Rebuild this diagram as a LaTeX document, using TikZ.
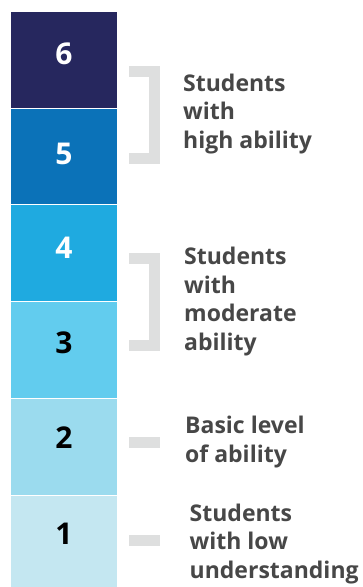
\documentclass[tikz,border=0pt]{standalone}
\usepackage{fontspec}
\setmainfont{Open Sans}
\definecolor{lvsix}{HTML}{26275E}
\definecolor{lvfive}{HTML}{0B72B8}
\definecolor{lvfour}{HTML}{1FAAE0}
\definecolor{lvthree}{HTML}{62CCEE}
\definecolor{lvtwo}{HTML}{9BDBEE}
\definecolor{lvone}{HTML}{C4E7F1}
\definecolor{brk}{HTML}{DEDFDF}
\definecolor{txt}{HTML}{474747}
\tikzset{
  lvblock/.style={rectangle, inner sep=0pt, minimum width=106pt},
  lvnum/.style={anchor=base, inner sep=0pt, font=\fontsize{30}{30}\selectfont\bfseries},
  brace/.style={draw=brk, line width=11pt, line cap=butt, line join=miter},
  desc/.style={anchor=base west, inner sep=0pt, align=left, text=txt,
    font=\fontsize{23}{28.5}\selectfont\bfseries}
}
\begin{document}
\begin{tikzpicture}[x=1pt,y=-1pt]
\useasboundingbox (0,0) rectangle (363,587);
\begin{scope}
\clip (0,0) rectangle (363,587);
% level blocks
\node[lvblock, fill=lvsix,   minimum height=95.5pt] (b6) at (64,59.75) {};
\node[lvblock, fill=lvfive,  minimum height=95pt]   (b5) at (64,156) {};
\node[lvblock, fill=lvfour,  minimum height=96pt]   (b4) at (64,252.5) {};
\node[lvblock, fill=lvthree, minimum height=96pt]   (b3) at (64,349.5) {};
\node[lvblock, fill=lvtwo,   minimum height=96pt]   (b2) at (64,446.5) {};
\node[lvblock, fill=lvone,   minimum height=91.5pt] (b1) at (64,541.25) {};
% level numbers
\node[lvnum, text=white] (n6) at (64,64.5) {6};
\node[lvnum, text=white] (n5) at (64,164.5) {5};
\node[lvnum, text=white] (n4) at (64,258.5) {4};
\node[lvnum, text=black] (n3) at (64,353.5) {3};
\node[lvnum, text=black] (n2) at (64,448.5) {2};
\node[lvnum, text=black] (n1) at (64,544.5) {1};
% brackets and dashes
\draw[brace] (129,71.5) -- (154.5,71.5) -- (154.5,158.5) -- (129,158.5);
\draw[brace] (129,258.5) -- (154.5,258.5) -- (154.5,345.5) -- (129,345.5);
\draw[brace] (129,442) -- (160,442);
\draw[brace] (129,540.5) -- (160,540.5);
% descriptions (anchored at the baseline of the last line)
\node[desc] (t1) at (183,148) {Students\\with\\high ability};
\node[desc] (t2) at (184,350) {Students\\with\\moderate\\ability};
\node[desc] (t3) at (185,462) {Basic level\\of ability};
\node[desc] (t4) at (189.5,578) {Students\\with low\\understanding};
\end{scope}
\end{tikzpicture}
\end{document}
